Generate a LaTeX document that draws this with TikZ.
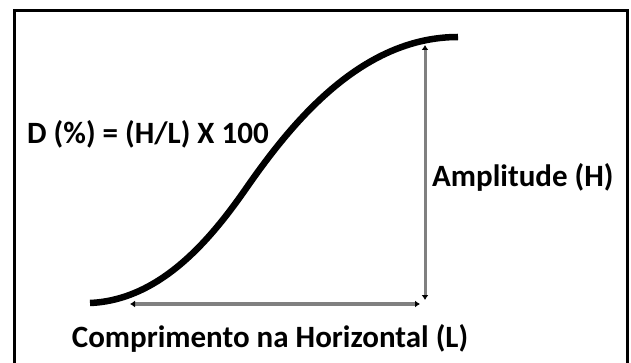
\documentclass[tikz,border=0pt]{standalone}
\usepackage{fontspec}
\setmainfont{Carlito}
\usetikzlibrary{arrows.meta,positioning}
\definecolor{guidegray}{RGB}{128,128,128}

\begin{document}
\begin{tikzpicture}[
      x=1pt,y=-1pt,
      label/.style={font=\bfseries\fontsize{31}{35}\selectfont,inner sep=0pt},
      curve/.style={line width=6.5pt,black},
      measure/.style={{Latex[length=5pt,width=7pt,black]}-{Latex[length=5pt,width=7pt,black]},line width=3pt,draw=guidegray}
    ]
      \useasboundingbox (0,0) rectangle (631,363);
      \draw[line width=3pt] (14.5,380) -- (14.5,11) -- (627.5,11) -- (627.5,380);
      \coordinate (base) at (90,303);
      \coordinate (bend) at (245,190);
      \coordinate (crest) at (458,37);
      \coordinate (lstart) at (130,304);
      \coordinate (lend) at (420,304);
      \coordinate (htop) at (425,45);
      \coordinate (hbot) at (425,300);
      \draw[curve] (base) .. controls (160,300) and (210,240) .. (bend)
        .. controls (290,125) and (360,37) .. (crest);
      \draw[measure,line width=3.5pt] (lstart) -- (lend);
      \draw[measure] (htop) -- (hbot);
      \node[label,anchor=west] (formula) at (27,134) {D (\%) = (H/L) X 100};
      \node[label,anchor=west] (amp) at (432,177) {Amplitude (H)};
      \node[label] (length) at (270,338) {Comprimento na Horizontal (L)};
    \end{tikzpicture}
\end{document}
